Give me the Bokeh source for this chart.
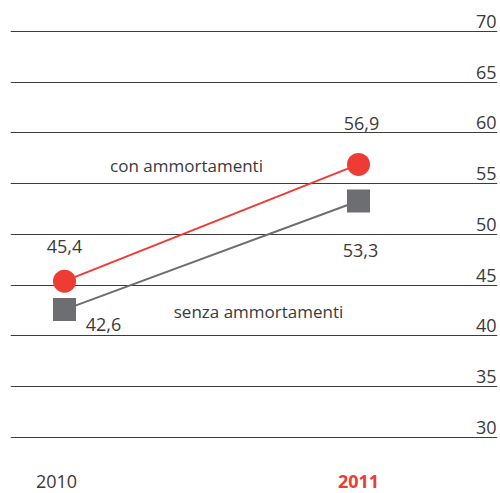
from bokeh.plotting import figure
from bokeh.models import Range1d, Grid, FixedTicker, ColumnDataSource, Label
from bokeh.core.properties import value
from bokeh.embed import file_html
from bokeh.resources import INLINE

years = [2010, 2011]
year_labels = ["2010", "2011"]
con = [45.4, 56.9]
senza = [42.6, 53.3]
con_labels = ["45,4", "56,9"]
senza_labels = ["42,6", "53,3"]
yticks = [30, 35, 40, 45, 50, 55, 60, 65, 70]
series_names = ["con ammortamenti", "senza ammortamenti"]

RED = "#ee3b33"
GREY = "#6d6e72"
TXT = "#3a3a3a"
FONT = value("Open Sans")

p = figure(width=500, height=493, output_backend="svg", toolbar_location=None,
           x_axis_location=None, y_axis_location=None,
           min_border_left=10, min_border_right=3, min_border_top=0, min_border_bottom=0,
           x_range=Range1d(2009.8163, 2011.4728), y_range=Range1d(24.48, 73.05))
p.outline_line_color = None
p.background_fill_color = None
p.border_fill_color = None
for g in p.grid:
    g.visible = False

p.add_layout(Grid(dimension=1, ticker=FixedTicker(ticks=yticks),
                  grid_line_color="#3c3c3c", grid_line_width=1))

# lines and markers
p.line(years, con, line_color=RED, line_width=2)
p.line(years, senza, line_color=GREY, line_width=2)
p.scatter(years, con, marker="circle", size=23, fill_color=RED, line_color=None)
p.scatter(years, senza, marker="square", size=23, fill_color=GREY, line_color=None)

# value labels
p.text(x=years, y=con, text=con_labels, x_offset=[0, 3], y_offset=[-35, -41],
       text_align="center", text_baseline="alphabetic", text_font=FONT,
       text_font_size="18px", text_color=TXT)
p.text(x=years, y=senza, text=senza_labels, x_offset=[39, 2], y_offset=[15, 50],
       text_align="center", text_baseline="alphabetic", text_font=FONT,
       text_font_size="18px", text_color=TXT)

# tick labels on the right
p.text(x=[p.x_range.end] * len(yticks), y=yticks, text=[str(t) for t in yticks],
       x_offset=-1, y_offset=-10, text_align="right", text_baseline="alphabetic",
       text_font=FONT, text_font_size="18px", text_color=TXT)

# year labels
p.text(x=years, y=[p.y_range.start] * 2, text=year_labels, x_offset=[-8, 0], y_offset=-12,
       text_align="center", text_baseline="alphabetic", text_font=FONT,
       text_font_size="18px", text_color=[TXT, RED], text_font_style=["normal", "bold"])

# series labels
p.add_layout(Label(x=2010.415, y=56.8, text=series_names[0], text_align="center",
                   text_baseline="alphabetic", text_font="Open Sans",
                   text_font_size="17px", text_color=TXT))
p.add_layout(Label(x=2010.66, y=42.4, text=series_names[1], text_align="center",
                   text_baseline="alphabetic", text_font="Open Sans",
                   text_font_size="17px", text_color=TXT))

open("out.html", "w").write(file_html(p, INLINE))
